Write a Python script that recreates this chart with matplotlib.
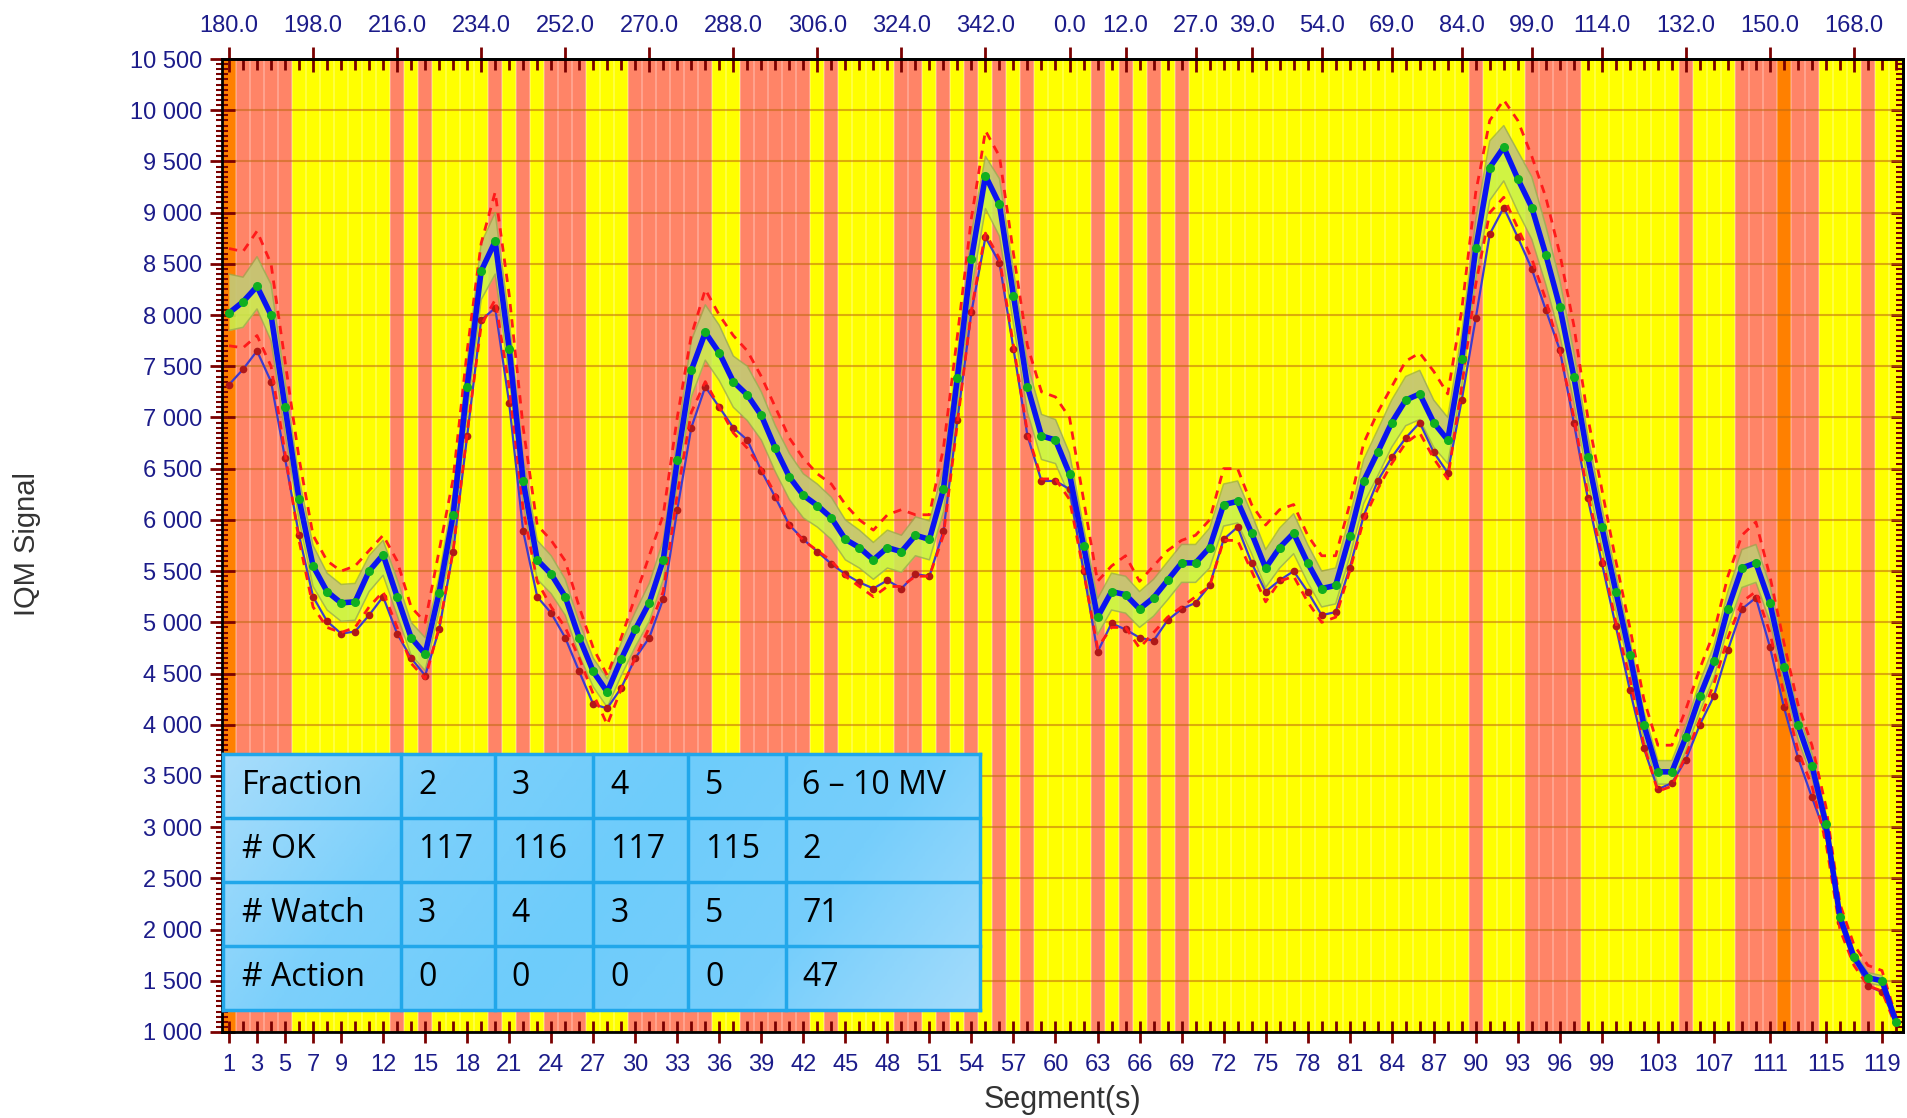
import numpy as np
import matplotlib
matplotlib.use("Agg")
import matplotlib.pyplot as plt
from matplotlib.ticker import FixedLocator, MultipleLocator, FuncFormatter
from matplotlib.colors import LinearSegmentedColormap

# ---------------- data ----------------
segments = list(range(1, 121))

# segment status colour code: O = OK (orange), Y = Watch (yellow), R = Action (red)
status = list("O" + "RRRR" + "YYYYYYY" + "R" + "Y" + "R" + "YYYY" + "R" + "Y" + "R" + "Y"
              + "RRR" + "YYY" + "RRRRRR" + "YY" + "RRRRR" + "Y" + "R" + "YYYY" + "RR"
              + "YRYRYRYR" + "YYYY" + "RYRYRYR" + "YYYYYYYYYYYYYYYYYYYY" + "R" + "YYY"
              + "RRRR" + "YYYYYYY" + "R" + "YYY" + "RRR" + "O" + "RR" + "YYY" + "R" + "YY")

mean_signal = [8020, 8130, 8280, 8000, 7100, 6200, 5550, 5300, 5190, 5200,
               5500, 5660, 5250, 4850, 4690, 5290, 6050, 7300, 8430, 8720,
               7670, 6380, 5610, 5470, 5250, 4850, 4520, 4320, 4640, 4930,
               5190, 5610, 6580, 7460, 7830, 7630, 7350, 7220, 7020, 6700,
               6420, 6240, 6140, 6020, 5810, 5730, 5610, 5730, 5690, 5850,
               5810, 6300, 7390, 8550, 9360, 9080, 8190, 7300, 6820, 6780,
               6450, 5750, 5050, 5300, 5270, 5130, 5240, 5410, 5580, 5580,
               5730, 6150, 6180, 5870, 5530, 5730, 5870, 5580, 5330, 5360,
               5840, 6380, 6660, 6950, 7170, 7230, 6950, 6780, 7570, 8650,
               9440, 9640, 9330, 9050, 8590, 8080, 7400, 6610, 5930, 5300,
               4680, 4000, 3540, 3540, 3880, 4280, 4620, 5130, 5530, 5580,
               5190, 4560, 4000, 3600, 3030, 2120, 1730, 1530, 1500, 1100]

tol_upper = [8650, 8620, 8820, 8500, 7550, 6600, 5850, 5600, 5500, 5550,
             5700, 5850, 5600, 5150, 5000, 5700, 6400, 7650, 8700, 9200,
             8200, 6900, 5950, 5800, 5600, 5150, 4750, 4480, 4850, 5250,
             5650, 6050, 7000, 7800, 8250, 8000, 7800, 7650, 7400, 7100,
             6800, 6600, 6450, 6350, 6150, 6000, 5900, 6050, 6100, 6050,
             6050, 6700, 7800, 8950, 9800, 9550, 8600, 7700, 7250, 7200,
             7000, 6200, 5400, 5550, 5650, 5400, 5550, 5700, 5800, 5850,
             6000, 6500, 6500, 6150, 5950, 6100, 6150, 5850, 5650, 5650,
             6150, 6750, 7050, 7300, 7550, 7630, 7450, 7230, 8050, 9200,
             9900, 10100, 9900, 9550, 9150, 8600, 7900, 7000, 6300, 5600,
             4950, 4250, 3800, 3800, 4150, 4550, 4900, 5450, 5850, 5980,
             5450, 4800, 4200, 3800, 3200, 2250, 1850, 1650, 1600, 1150]

tol_lower = [7700, 7680, 7800, 7500, 6650, 5800, 5150, 4950, 4900, 4950,
             5150, 5300, 4950, 4600, 4450, 4950, 5700, 6850, 7900, 8150,
             7300, 6100, 5400, 5150, 4950, 4650, 4300, 4000, 4350, 4650,
             4950, 5300, 6250, 7050, 7350, 7100, 6850, 6700, 6500, 6250,
             5950, 5800, 5700, 5600, 5450, 5350, 5250, 5350, 5350, 5450,
             5450, 5850, 6950, 8050, 8800, 8550, 7700, 6850, 6400, 6400,
             6200, 5500, 4750, 4950, 4950, 4750, 4900, 5050, 5150, 5250,
             5350, 5800, 5800, 5500, 5200, 5400, 5450, 5200, 5000, 5050,
             5500, 6000, 6300, 6550, 6750, 6850, 6600, 6400, 7300, 8300,
             9000, 9150, 8850, 8550, 8150, 7650, 7000, 6250, 5650, 5000,
             4450, 3800, 3350, 3400, 3700, 4050, 4400, 4850, 5200, 5300,
             4900, 4300, 3750, 3400, 2850, 2000, 1650, 1450, 1400, 1050]

band_high = [8400, 8370, 8570, 8300, 7350, 6400, 5750, 5480, 5370, 5380,
             5650, 5800, 5420, 5000, 4850, 5450, 6250, 7550, 8700, 9000,
             7950, 6600, 5800, 5650, 5420, 5000, 4650, 4450, 4800, 5100,
             5380, 5800, 6800, 7750, 8100, 7900, 7600, 7500, 7250, 6920,
             6650, 6450, 6350, 6220, 6000, 5900, 5780, 5900, 5850, 6030,
             5990, 6500, 7620, 8800, 9550, 9330, 8430, 7520, 7030, 6980,
             6650, 5930, 5230, 5480, 5450, 5300, 5420, 5590, 5760, 5760,
             5920, 6350, 6380, 6060, 5710, 5920, 6060, 5760, 5500, 5530,
             6030, 6590, 6880, 7170, 7400, 7460, 7170, 7000, 7820, 8930,
             9700, 9850, 9600, 9350, 8870, 8340, 7640, 6820, 6120, 5470,
             4830, 4130, 3650, 3650, 4000, 4420, 4770, 5300, 5710, 5760,
             5360, 4710, 4130, 3720, 3130, 2190, 1790, 1580, 1550, 1140]

band_low = [7850, 7880, 8060, 7750, 6850, 6000, 5350, 5120, 5010, 5020,
            5300, 5460, 5070, 4680, 4530, 5110, 5850, 7050, 8150, 8400,
            7400, 6160, 5420, 5280, 5070, 4680, 4370, 4170, 4480, 4760,
            5010, 5420, 6350, 7200, 7560, 7360, 7100, 6970, 6780, 6470,
            6200, 6020, 5930, 5810, 5610, 5530, 5420, 5530, 5490, 5650,
            5610, 6080, 7130, 8250, 9040, 8770, 7910, 7050, 6590, 6550,
            6230, 5550, 4880, 5120, 5090, 4950, 5060, 5220, 5390, 5390,
            5530, 5940, 5970, 5670, 5340, 5530, 5670, 5390, 5150, 5180,
            5640, 6160, 6430, 6710, 6920, 6980, 6710, 6550, 7310, 8350,
            9120, 9310, 9010, 8740, 8300, 7800, 7150, 6380, 5730, 5120,
            4520, 3860, 3420, 3420, 3750, 4130, 4460, 4950, 5340, 5390,
            5010, 4400, 3860, 3480, 2930, 2050, 1670, 1480, 1450, 1060]

mv_signal = [7320, 7470, 7650, 7350, 6600, 5850, 5250, 5010, 4890, 4910,
             5070, 5250, 4890, 4650, 4480, 4930, 5690, 6820, 7950, 8070,
             7140, 5890, 5250, 5090, 4850, 4520, 4200, 4160, 4360, 4650,
             4850, 5230, 6100, 6900, 7300, 7100, 6900, 6780, 6480, 6220,
             5950, 5810, 5690, 5570, 5470, 5390, 5330, 5410, 5330, 5470,
             5450, 5890, 6980, 8030, 8760, 8510, 7670, 6820, 6380, 6380,
             6300, 5500, 4710, 4990, 4930, 4850, 4820, 5020, 5130, 5190,
             5360, 5810, 5930, 5580, 5300, 5410, 5500, 5300, 5070, 5100,
             5530, 6040, 6380, 6610, 6800, 6950, 6660, 6460, 7170, 7970,
             8790, 9050, 8760, 8450, 8050, 7660, 6950, 6210, 5580, 4960,
             4340, 3770, 3370, 3430, 3660, 4000, 4280, 4730, 5130, 5240,
             4760, 4170, 3680, 3290, 2920, 2070, 1730, 1450, 1390, 1100]

bottom_ticks = [1, 3, 5, 7, 9, 12, 15, 18, 21, 24, 27, 30, 33, 36, 39, 42, 45, 48,
                51, 54, 57, 60, 63, 66, 69, 72, 75, 78, 81, 84, 87, 90, 93, 96, 99,
                103, 107, 111, 115, 119]
top_ticks = [1, 7, 13, 19, 25, 31, 37, 43, 49, 55, 61, 65, 70, 74, 79, 84, 89, 94,
             99, 105, 111, 117]
top_labels = ["180.0", "198.0", "216.0", "234.0", "252.0", "270.0", "288.0", "306.0",
              "324.0", "342.0", "0.0", "12.0", "27.0", "39.0", "54.0", "69.0", "84.0",
              "99.0", "114.0", "132.0", "150.0", "168.0"]

table_rows = [["Fraction", "2", "3", "4", "5", "6 \u2013 10 MV"],
              ["# OK", "117", "116", "117", "115", "2"],
              ["# Watch", "3", "4", "3", "5", "71"],
              ["# Action", "0", "0", "0", "0", "47"]]

# ---------------- style ----------------
W, H = 1907, 1118
fig = plt.figure(figsize=(W / 100, H / 100), dpi=100)
fig.patch.set_facecolor("white")

left_px, right_px, top_px, bot_px = 222, 1903, 59, 1032
ax = fig.add_axes([left_px / W, 1 - bot_px / H, (right_px - left_px) / W, (bot_px - top_px) / H])
ax.set_xlim(0.5, 120.5)
ax.set_ylim(1000, 10500)

status_colors = {"O": "#FF8000", "Y": "#FFFF00", "R": "#FF8467"}
ax.bar(segments, [10500 - 1000] * len(segments), bottom=1000, width=1.0,
       color=[status_colors[s] for s in status], linewidth=0, zorder=0)
for s in segments[:-1]:
    ax.axvline(s + 0.5, color="white", alpha=0.28, lw=1.3, zorder=0.5)

ax.yaxis.grid(True, which="major", color="#C06A10", alpha=0.55, lw=1.5, zorder=1)
ax.set_axisbelow(True)

x = np.array(segments)
ax.fill_between(x, band_low, band_high, color="#C8F250", alpha=0.85, lw=0, zorder=2)
ax.fill_between(x, mean_signal, band_high, color="#C4AE88", alpha=0.6, lw=0, zorder=2.1)
ax.plot(x, band_high, color="#98A850", lw=1.1, alpha=0.75, zorder=2.2)
ax.plot(x, band_low, color="#98A850", lw=1.1, alpha=0.75, zorder=2.2)

ax.plot(x, mv_signal, color="#3B3BD0", lw=1.6, zorder=3,
        marker="o", markersize=4.5, markerfacecolor="#B01818", markeredgecolor="#B01818")
ax.plot(x, tol_upper, color="#FF1A1A", lw=2.0, ls=(0, (3, 2.5)), zorder=4)
ax.plot(x, tol_lower, color="#FF1A1A", lw=2.0, ls=(0, (3, 2.5)), zorder=4)
ax.plot(x, mean_signal, color="#0A14F0", lw=4.0, zorder=5)
ax.plot(x, mean_signal, ls="none", marker="o", markersize=5.5,
        markerfacecolor="#10B020", markeredgecolor="#10B020", zorder=6)

# spines & ticks
for sp in ax.spines.values():
    sp.set_color("black")
    sp.set_linewidth(2.0)
tick_col = "#7A0000"
lab_col = "#1C1C8A"
lsize = 17

ax.xaxis.set_major_locator(FixedLocator(bottom_ticks))
ax.xaxis.set_minor_locator(MultipleLocator(1))
ax.set_xticklabels([str(t) for t in bottom_ticks])
ax.tick_params(axis="x", which="major", direction="inout", length=16, width=2,
               color=tick_col, labelcolor=lab_col, labelsize=lsize, pad=8)
ax.tick_params(axis="x", which="minor", direction="in", length=8, width=2, color=tick_col)

ax.yaxis.set_major_locator(MultipleLocator(500))
ax.yaxis.set_minor_locator(MultipleLocator(50))
ax.yaxis.set_major_formatter(FuncFormatter(lambda v, p: f"{int(v):,}".replace(",", " ")))
ax.tick_params(axis="y", which="major", direction="inout", length=18, width=2,
               color=tick_col, labelcolor=lab_col, labelsize=lsize, pad=5)
ax.tick_params(axis="y", which="minor", direction="inout", length=9, width=1.5, color=tick_col)
for lab in ax.get_xticklabels() + ax.get_yticklabels():
    lab.set_fontfamily("Liberation Sans")

top = ax.secondary_xaxis("top")
top.xaxis.set_major_locator(FixedLocator(top_ticks))
top.set_xticklabels(top_labels)
top.xaxis.set_minor_locator(MultipleLocator(1))
top.tick_params(axis="x", which="major", direction="inout", length=18, width=2,
                color=tick_col, labelcolor=lab_col, labelsize=lsize, pad=7)
top.tick_params(axis="x", which="minor", direction="in", length=8, width=2, color=tick_col)
top.spines["top"].set_linewidth(2.0)
for lab in top.get_xticklabels():
    lab.set_fontfamily("Liberation Sans")

right = ax.secondary_yaxis("right")
right.yaxis.set_major_locator(MultipleLocator(500))
right.yaxis.set_minor_locator(MultipleLocator(50))
right.tick_params(axis="y", which="major", direction="in", length=9, width=2,
                  color=tick_col, labelright=False)
right.tick_params(axis="y", which="minor", direction="in", length=5, width=1.5, color=tick_col)
right.spines["right"].set_linewidth(2.0)

fig.text(1062 / W, 1 - 1100 / H, "Segment(s)", ha="center", va="center",
         fontsize=22, color="#333333", family="Liberation Sans")
fig.text(27 / W, 1 - 544 / H, "IQM Signal", ha="center", va="center", rotation=90,
         fontsize=21, color="#333333", family="Liberation Sans")

# ---------------- table overlay ----------------
t_left, t_right, t_top, t_bot = 222.6, 980.3, 754, 1010
tax = fig.add_axes([t_left / W, 1 - t_bot / H, (t_right - t_left) / W, (t_bot - t_top) / H])
tax.set_xlim(0, 1)
tax.set_ylim(0, 1)
tax.axis("off")
grad_cmap = LinearSegmentedColormap.from_list(
    "tbl", ["#A8DDFB", "#7CD0FB", "#6ECCFB", "#76CEFB", "#A4DCFC"])
gx, gy = np.meshgrid(np.linspace(0, 1, 300), np.linspace(0, 1, 100))
tax.imshow(0.8 * gx + 0.2 * (1 - gy), cmap=grad_cmap, extent=[0, 1, 0, 1],
           aspect="auto", origin="lower", zorder=0)
col_edges = [0.0, 0.2358, 0.3595, 0.4895, 0.6148, 0.7432, 1.0]
n_rows = len(table_rows)
border = "#21A7EA"
for ce in col_edges:
    tax.plot([ce, ce], [0, 1], color=border, lw=2.5, zorder=2, clip_on=False)
for r in range(n_rows + 1):
    tax.plot([0, 1], [r / n_rows, r / n_rows], color=border, lw=2.5, zorder=2, clip_on=False)
for r, row in enumerate(table_rows):
    yc = 1 - (r + 0.5) / n_rows
    for c, txt in enumerate(row):
        xs = col_edges[c] + (0.026 if c == 0 else 0.022)
        tax.text(xs, yc, txt, ha="left", va="center", fontsize=23,
                 family="Open Sans", color="black", zorder=3)

fig.savefig("out.png", dpi=100)
